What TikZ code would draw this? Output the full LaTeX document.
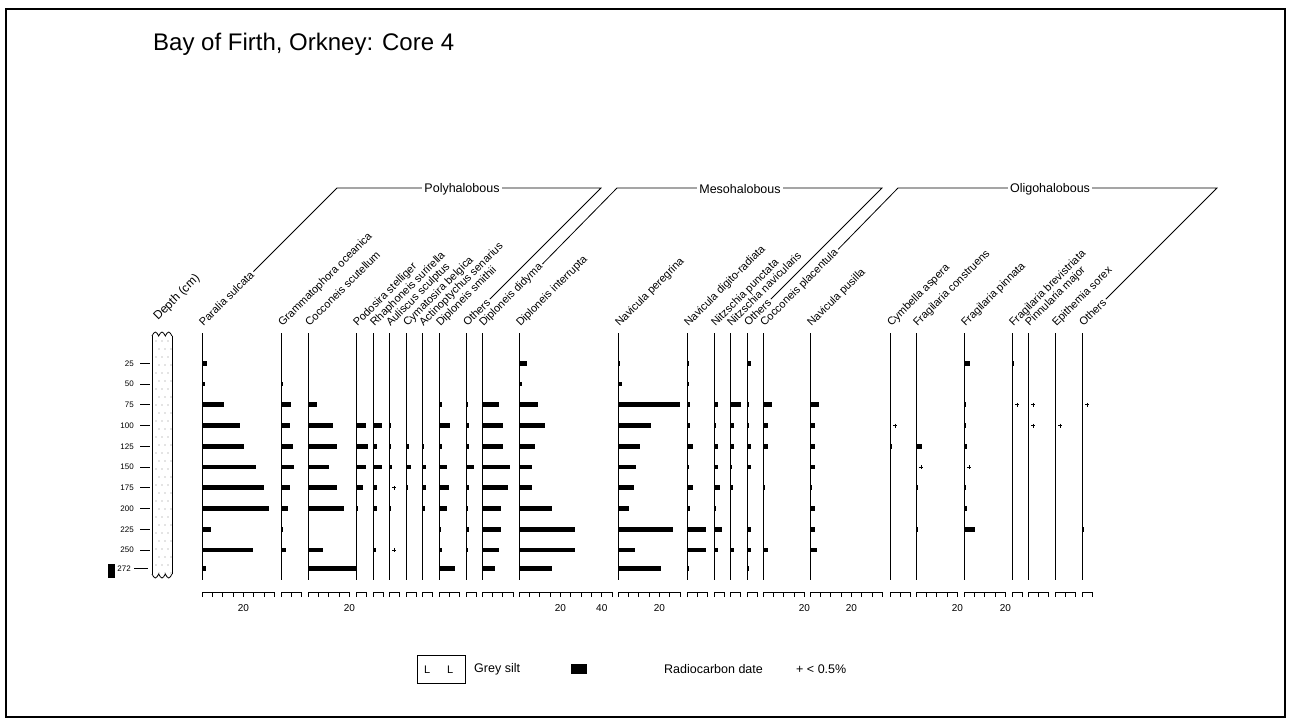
\documentclass[tikz,border=0pt]{standalone}
\usepackage{fontspec}
\setmainfont{Liberation Sans}
\begin{document}
\begin{tikzpicture}[x=1pt,y=-1pt,
  colline/.style={line width=0.8pt},
  axisline/.style={line width=0.7pt},
  splab/.style={anchor=base west, rotate=45, inner sep=0pt, font=\fontsize{11}{12}\selectfont},
  grouplab/.style={fill=white, inner sep=2.5pt, font=\fontsize{12.5}{14}\selectfont},
  bracket/.style={line width=0.8pt, shorten <=2pt, shorten >=2pt},
  depthnum/.style={anchor=east, inner sep=0pt, font=\fontsize{8}{9}\selectfont},
  axnum/.style={anchor=base, inner sep=0pt, font=\fontsize{10}{11}\selectfont},
  leg/.style={anchor=west, inner sep=0pt, font=\fontsize{12.5}{14}\selectfont}]
\useasboundingbox (0,0) rectangle (1289,720);
\draw[line width=1.6pt] (6,9) rectangle (1285,717);

% title
\node[anchor=base west, inner sep=0pt, font=\fontsize{24}{26}\selectfont] (title) at (153,50) {Bay of Firth, Orkney: Core 4};

% lithology column
\foreach \i in {0,...,29}{
  \foreach \j in {0,1,2}{
    \pgfmathsetmacro\px{156+\j*6+mod(\i,2)*3}
    \pgfmathsetmacro\py{341+\i*8}
    \fill[black!45] (\px,\py) circle (0.6);
  }
}
\draw[line width=0.8pt] (152,336) -- (152,574);
\draw[line width=0.8pt] (172,336) -- (172,574);
\draw[line width=0.8pt] (152,336) sin (155.33,332) cos (158.67,336) sin (162,332) cos (165.33,336) sin (168.67,332) cos (172,336);
\draw[line width=0.8pt] (152,574) sin (155.33,578) cos (158.67,574) sin (162,578) cos (165.33,574) sin (168.67,578) cos (172,574);
\node[splab, font=\fontsize{12}{13}\selectfont] (depthlab) at (158,321) {Depth (cm)};

% depth scale
\foreach \d in {25,50,...,250}{
  \pgfmathsetmacro\yy{342.5+0.83*\d}
  \draw[line width=0.7pt] (140,\yy) -- (150,\yy);
  \node[depthnum] (dn\d) at (134,\yy) {\d};
}
\draw[line width=0.7pt] (134,568.5) -- (148,568.5);
\node[depthnum] (dn272) at (131,569) {272};
\fill (108,564) rectangle (115,578);

% species columns
\foreach \x/\lab/\ext/\n in {
202/Paralia sulcata/35/1,
281/Grammatophora oceanica/10/2,
308/Cocconeis scutellum/20/3,
356/Podosira stelliger/5/4,
373/Rhaphoneis surirella/5/5,
389/Auliscus sculptus/5/6,
406/Cymatosira belgica/5/7,
422/Actinoptychus senarius/5/8,
439/Diploneis smithii/10/9,
466/Others/5/10,
482/Diploneis didyma/15/11,
519/Diploneis interrupta/45/12,
618/Navicula peregrina/30/13,
687/Navicula digito-radiata/10/14,
714/Nitzschia punctata/5/15,
730/Nitzschia navicularis/5/16,
747/Others/5/17,
763/Cocconeis placentula/20/18,
810/Navicula pusilla/35/19,
890/Cymbella aspera/10/20,
916/Fragilaria construens/20/21,
964/Fragilaria pinnata/20/22,
1012/Fragilaria brevistriata/5/23,
1028/Pinnularia major/10/24,
1055/Epithemia sorex/10/25,
1082/Others/5/26}{
  \draw[colline] (\x,333) -- (\x,580);
  \node[splab] (lab\n) at (\x+1.5,327) {\lab};
  \pgfmathtruncatemacro\nt{\ext/5}
  \draw[axisline] (\x,592) -- (\x+\ext*2.07,592);
  \foreach \k in {0,...,\nt}{
    \draw[axisline] (\x+\k*10.35,592) -- (\x+\k*10.35,597);
  }
}

% axis numbers
\foreach \x/\n in {202/a1,308/a3,519/a12,618/a13,763/a18,810/a19,916/a21,964/a22}{
  \node[axnum] (\n) at (\x+41.4,611) {20};
}
\node[axnum] (a12b) at (519+82.8,611) {40};

% group brackets
\draw[bracket] (lab1.east) -- (337,188) -- (601,188) -- (lab10.east);
\node[grouplab] (gpoly) at (462,189) {Polyhalobous};
\draw[bracket] (lab11.east) -- (617,188) -- (882,188) -- (lab17.east);
\node[grouplab] (gmeso) at (740,189) {Mesohalobous};
\draw[bracket] (lab18.east) -- (898,188) -- (1217,188) -- (lab26.east);
\node[grouplab] (golig) at (1050,189) {Oligohalobous};

% bars
\foreach \x/\vals in {
202/{25/5,50/3,75/22,100/38,125/42,150/54,175/62,200/67,225/9,250/51,272/4},
281/{50/2,75/10,100/9,125/12,150/13,175/9,200/7,225/2,250/5},
308/{75/9,100/25,125/29,150/21,175/29,200/36,250/15,272/48},
356/{100/10,125/12,150/10,175/7,200/2},
373/{100/9,125/4,150/9,175/4,200/4,250/3},
389/{100/2,125/2,150/3,200/2},
406/{125/3,150/5,175/1.5},
422/{125/2,150/4,175/4,200/3},
439/{75/3,100/11,125/3,150/8,175/10,200/8,225/1.5,250/3,272/16},
466/{75/2,100/3,125/3,150/8,175/3,200/1.5,225/3,250/1.5},
482/{75/17,100/21,125/21,150/28,175/26,200/19,225/19,250/17,272/13},
519/{25/8,50/3,75/19,100/26,125/16,150/13,175/13,200/33,225/56,250/56,272/33},
618/{25/2,50/4,75/62,100/33,125/22,150/18,175/16,200/11,225/55,250/17,272/43},
687/{25/2,50/2,75/3,100/3,125/6,150/1.5,175/6,200/3,225/19,250/19,272/2},
714/{75/4,100/2,125/4,150/4,175/6,200/1.5,225/8,250/4},
730/{75/11,100/4,125/4,150/2,175/3,250/4},
747/{25/4,75/2,100/2,125/4,150/4,225/4,250/4,272/2},
763/{75/9,100/5,125/5,175/2,250/5},
810/{75/9,100/5,125/5,150/5,175/2,200/5,225/5,250/7},
890/{125/1.5},
916/{125/6,175/1.5,225/1.5},
964/{25/6,75/2,100/2,125/3,175/2,200/3,225/11},
1012/{25/2},
1082/{225/2}}{
  \foreach \d/\l in \vals{
    \pgfmathsetmacro\yy{342.5+0.83*\d}
    \fill (\x,\yy-2.3) rectangle ++(\l,4.6);
  }
}
% < 0.5 % markers
\foreach \x/\d in {389/175,389/250,890/100,916/150,964/150,1012/75,1028/75,1028/100,1055/100,1082/75}{
  \pgfmathsetmacro\yy{342.5+0.83*\d}
  \draw[line width=0.6pt] (\x+3,\yy) -- (\x+7,\yy) (\x+5,\yy-2) -- (\x+5,\yy+2);
}

% legend
\draw[line width=0.8pt] (417,655) rectangle (465,683);
\node[leg, font=\fontsize{11}{12}\selectfont] (legL1) at (424,670) {L};
\node[leg, font=\fontsize{11}{12}\selectfont] (legL2) at (447,670) {L};
\node[leg] (legsilt) at (474,669) {Grey silt};
\fill (571,664) rectangle (587,674);
\node[leg] (legrad) at (664,669) {Radiocarbon date};
\node[leg] (legplus) at (796,669) {+ < 0.5\%};
\end{tikzpicture}
\end{document}
